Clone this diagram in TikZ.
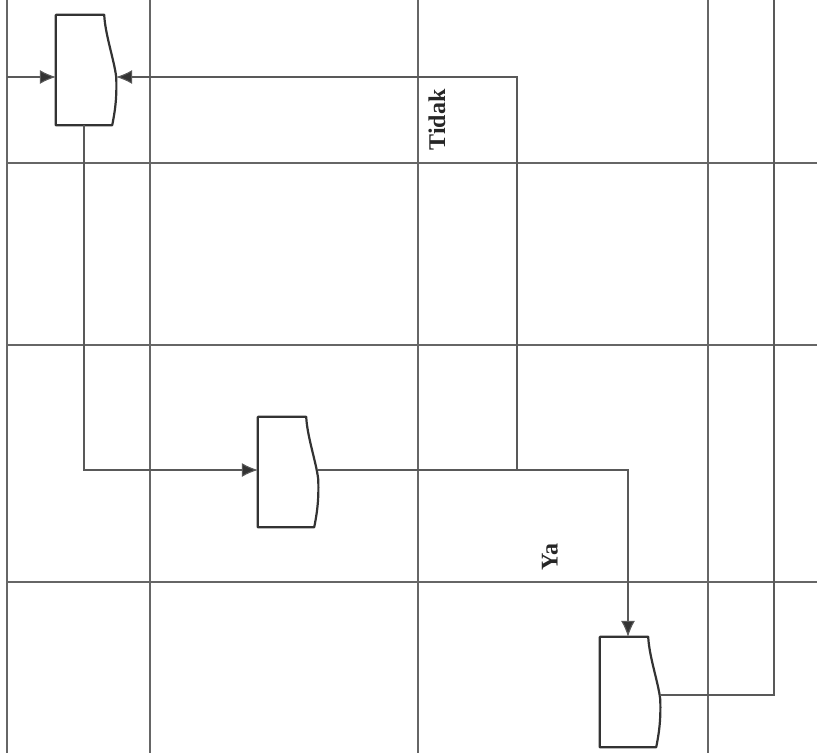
\documentclass[tikz,border=0pt]{standalone}
\usepackage{fontspec}
\setmainfont{Liberation Serif}
\usetikzlibrary{arrows.meta}

\tikzset{
    lane/.style={draw=black!60, line width=1.1pt},
    flow/.style={draw=black!65, line width=1.1pt},
    arrowflow/.style={flow, -{Latex[length=16pt,width=14pt,fill=black!80]}},
    procbox/.style={rectangle, draw=none, minimum width=56pt, minimum height=110pt, inner sep=0pt},
    boxline/.style={draw=black!80, line width=2.2pt, line join=round},
    branch/.style={font=\bfseries\fontsize{24}{24}\selectfont, rotate=90, text=black!85}
}

\begin{document}
\begin{tikzpicture}[x=1pt,y=-1pt]
        \useasboundingbox (0,0) rectangle (817,753);

        % swimlane grid
        \foreach \xl in {7,150,418,708}
            \draw[lane] (\xl,0) -- (\xl,753);
        \foreach \yl in {163,345,582}
            \draw[lane] (7,\yl) -- (817,\yl);

        \node[procbox] (terima) at (84,70) {};
        \node[procbox] (periksa) at (286,472) {};
        \node[procbox] (simpan) at (628,692) {};

        \foreach \b in {terima,periksa,simpan}
            \draw[boxline] (\b.north west) -- ([xshift=-8pt]\b.north east)
                .. controls ([xshift=-7pt,yshift=-20pt]\b.north east) and ([xshift=2pt,yshift=10pt]\b.east)
                .. ([xshift=4pt,yshift=-7pt]\b.east)
                .. controls ([xshift=5pt,yshift=-30pt]\b.east) and ([xshift=2pt,yshift=10pt]\b.south east)
                .. (\b.south east) -- (\b.south west) -- cycle;

        \coordinate (masuk) at (7,77);
        \coordinate (cabang) at (517,470);
        \coordinate (keluar) at (774,0);

        \draw[arrowflow] (masuk) -- (masuk -| terima.west);
        \draw[arrowflow] (terima.south) |- ([yshift=2pt]periksa.west);
        \draw[arrowflow] ([xshift=4pt,yshift=2pt]periksa.east) -| (simpan.north);
        \draw[arrowflow] (cabang) |- ([xshift=4pt,yshift=-7pt]terima.east);
        \draw[flow] ([xshift=4pt,yshift=-3pt]simpan.east) -| (keluar);

        \node[branch] (tidak) at (437,120) {Tidak};
        \node[branch] (ya) at (550,557) {Ya};
    \end{tikzpicture}
\end{document}
